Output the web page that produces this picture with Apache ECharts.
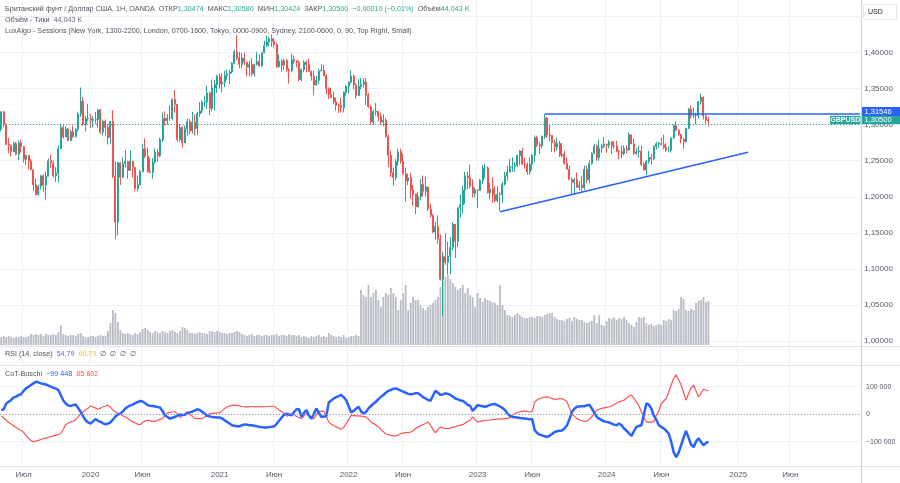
<!DOCTYPE html>
<html><head><meta charset="utf-8">
<script src="https://cdn.jsdelivr.net/npm/echarts@6/dist/echarts.min.js"></script>
<style>html,body{margin:0;padding:0;background:#fff}#c{width:900px;height:483px}</style>
</head><body><div id="c"></div>
<script>
// ---------- DATA ----------
const weekStart = '2019-04-29';   // first weekly category (Monday)
const weekCount = 347;            // weekly categories shown on the time axis (to Dec 2025)
const firstOpen = 1.2935;
const closes = [
1.3180,1.3005,1.2725,1.2715,1.2625,1.2740,1.2590,1.2745,1.2695,1.2520,
1.2575,1.2495,1.2375,1.2165,1.2030,1.2145,1.2290,1.2160,1.2285,1.2500,
1.2470,1.2290,1.2330,1.2665,1.2960,1.2830,1.2940,1.2780,1.2900,1.2835,
1.2935,1.3150,1.3325,1.3005,1.3080,1.3085,1.3060,1.3070,1.3075,1.3205,
1.2895,1.3045,1.2960,1.2820,1.3045,1.2280,1.1650,1.2470,1.2270,1.2460,
1.2490,1.2365,1.2490,1.2405,1.2115,1.2165,1.2345,1.2665,1.2565,1.2345,
1.2335,1.2480,1.2615,1.2570,1.2790,1.3085,1.3055,1.3090,1.3090,1.3350,
1.3280,1.2795,1.2960,1.2745,1.2945,1.3045,1.2915,1.3035,1.2945,1.3155,
1.3190,1.3310,1.3315,1.3440,1.3225,1.3510,1.3555,1.3670,1.3565,1.3590,
1.3685,1.3705,1.3730,1.3850,1.4010,1.3925,1.3835,1.3925,1.3865,1.3795,
1.3830,1.3705,1.3835,1.3875,1.3815,1.3995,1.4095,1.4150,1.4190,1.4155,
1.4110,1.3805,1.3880,1.3825,1.3890,1.3760,1.3745,1.3900,1.3880,1.3865,
1.3625,1.3760,1.3865,1.3835,1.3735,1.3675,1.3550,1.3615,1.3745,1.3755,
1.3680,1.3500,1.3415,1.3375,1.3315,1.3270,1.3265,1.3235,1.3450,1.3530,
1.3590,1.3675,1.3550,1.3405,1.3530,1.3560,1.3590,1.3410,1.3250,1.3035,
1.3180,1.3185,1.3115,1.3035,1.3060,1.2830,1.2575,1.2335,1.2265,1.2490,
1.2625,1.2490,1.2315,1.2220,1.2265,1.2095,1.2035,1.1860,1.2000,1.2175,
1.2075,1.2135,1.1830,1.1740,1.1510,1.1590,1.1415,1.0855,1.1170,1.1090,
1.1175,1.1300,1.1620,1.1380,1.1845,1.1890,1.2095,1.2290,1.2265,1.2145,
1.2050,1.2095,1.2090,1.2225,1.2400,1.2400,1.2055,1.2110,1.2030,1.1945,
1.2035,1.2030,1.2175,1.2290,1.2340,1.2415,1.2415,1.2440,1.2570,1.2635,
1.2450,1.2445,1.2345,1.2450,1.2575,1.2820,1.2720,1.2705,1.2835,1.3090,
1.2855,1.2850,1.2750,1.2690,1.2735,1.2575,1.2590,1.2465,1.2380,1.2240,
1.2200,1.2240,1.2130,1.2160,1.2125,1.2380,1.2235,1.2460,1.2605,1.2705,
1.2545,1.2675,1.2700,1.2730,1.2715,1.2760,1.2705,1.2705,1.2630,1.2625,
1.2600,1.2670,1.2650,1.2860,1.2735,1.2600,1.2620,1.2635,1.2450,1.2370,
1.2490,1.2545,1.2525,1.2700,1.2735,1.2740,1.2720,1.2685,1.2645,1.2645,
1.2815,1.2990,1.2920,1.2865,1.2800,1.2760,1.2945,1.3215,1.3125,1.3125,
1.3125,1.3320,1.3380,1.3120,1.3065,1.3050];
const highs = [
1.3180,1.3185,1.3020,1.2815,1.2720,1.2765,1.2760,1.2780,1.2785,1.2705,
1.2580,1.2580,1.2525,1.2380,1.2250,1.2165,1.2300,1.2310,1.2345,1.2530,
1.2585,1.2500,1.2410,1.2710,1.3015,1.2990,1.2975,1.2955,1.2930,1.2985,
1.2950,1.3180,1.3515,1.3380,1.3120,1.3285,1.3150,1.3120,1.3175,1.3210,
1.3215,1.3070,1.3070,1.3010,1.3050,1.3200,1.2485,1.2485,1.2485,1.2545,
1.2650,1.2500,1.2645,1.2500,1.2410,1.2295,1.2375,1.2730,1.2810,1.2685,
1.2540,1.2535,1.2670,1.2665,1.2815,1.3170,1.3185,1.3145,1.3265,1.3365,
1.3480,1.3285,1.3010,1.2980,1.2985,1.3085,1.3080,1.3175,1.3140,1.3180,
1.3315,1.3340,1.3400,1.3540,1.3455,1.3625,1.3620,1.3690,1.3705,1.3710,
1.3745,1.3760,1.3760,1.3870,1.4035,1.4240,1.4010,1.3995,1.4000,1.3875,
1.3885,1.3920,1.3845,1.4010,1.3975,1.4005,1.4165,1.4235,1.4220,1.4250,
1.4200,1.4135,1.3975,1.3905,1.3910,1.3910,1.3785,1.3985,1.3960,1.3895,
1.3890,1.3780,1.3890,1.3890,1.3915,1.3750,1.3750,1.3675,1.3775,1.3835,
1.3825,1.3700,1.3515,1.3515,1.3455,1.3375,1.3295,1.3375,1.3460,1.3550,
1.3600,1.3750,1.3690,1.3570,1.3630,1.3645,1.3645,1.3645,1.3440,1.3270,
1.3210,1.3300,1.3180,1.3165,1.3145,1.3090,1.2860,1.2640,1.2405,1.2525,
1.2670,1.2665,1.2600,1.2405,1.2325,1.2330,1.2165,1.2045,1.2065,1.2245,
1.2295,1.2275,1.2145,1.1900,1.1760,1.1650,1.1740,1.1475,1.1235,1.1495,
1.1380,1.1440,1.1645,1.1595,1.1855,1.2030,1.2155,1.2345,1.2345,1.2445,
1.2240,1.2120,1.2105,1.2245,1.2435,1.2450,1.2420,1.2195,1.2270,1.2145,
1.2145,1.2060,1.2205,1.2345,1.2425,1.2525,1.2545,1.2475,1.2585,1.2650,
1.2680,1.2535,1.2475,1.2545,1.2590,1.2850,1.2845,1.2760,1.2850,1.3145,
1.3105,1.3000,1.2850,1.2790,1.2820,1.2775,1.2745,1.2640,1.2545,1.2430,
1.2270,1.2260,1.2335,1.2220,1.2290,1.2430,1.2430,1.2505,1.2615,1.2735,
1.2725,1.2795,1.2735,1.2825,1.2735,1.2785,1.2770,1.2775,1.2775,1.2650,
1.2710,1.2710,1.2710,1.2895,1.2850,1.2805,1.2670,1.2710,1.2710,1.2475,
1.2510,1.2635,1.2595,1.2710,1.2760,1.2765,1.2820,1.2860,1.2740,1.2700,
1.2820,1.3000,1.3045,1.2935,1.2840,1.2815,1.2955,1.3230,1.3265,1.3240,
1.3165,1.3330,1.3435,1.3390,1.3130,1.3105];
const lows = [
1.2905,1.2965,1.2720,1.2605,1.2560,1.2625,1.2575,1.2505,1.2615,1.2475,
1.2440,1.2380,1.2370,1.2080,1.2015,1.2015,1.2100,1.2070,1.1960,1.2290,
1.2400,1.2270,1.2205,1.2195,1.2660,1.2805,1.2830,1.2770,1.2770,1.2815,
1.2820,1.2905,1.3105,1.2980,1.2905,1.3045,1.2955,1.2960,1.3010,1.2955,
1.2870,1.2850,1.2850,1.2725,1.2730,1.2260,1.1410,1.1465,1.2165,1.2255,
1.2405,1.2250,1.2365,1.2265,1.2075,1.2075,1.2160,1.2345,1.2535,1.2335,
1.2335,1.2250,1.2460,1.2480,1.2545,1.2760,1.2990,1.2995,1.3055,1.3060,
1.3165,1.2765,1.2765,1.2675,1.2760,1.2845,1.2865,1.2875,1.2855,1.2855,
1.3105,1.3150,1.3245,1.3220,1.3135,1.3185,1.3190,1.3435,1.3500,1.3450,
1.3520,1.3625,1.3565,1.3710,1.3835,1.3890,1.3780,1.3780,1.3830,1.3670,
1.3670,1.3670,1.3670,1.3820,1.3805,1.3800,1.3990,1.4075,1.4085,1.4080,
1.4070,1.3785,1.3790,1.3735,1.3760,1.3735,1.3570,1.3725,1.3845,1.3795,
1.3600,1.3605,1.3725,1.3725,1.3735,1.3610,1.3410,1.3545,1.3565,1.3740,
1.3670,1.3425,1.3355,1.3370,1.3280,1.3195,1.3160,1.3170,1.3170,1.3400,
1.3430,1.3570,1.3490,1.3360,1.3400,1.3490,1.3515,1.3270,1.3230,1.3000,
1.2995,1.3125,1.3050,1.3000,1.2975,1.2830,1.2410,1.2275,1.2155,1.2225,
1.2430,1.2460,1.2310,1.1935,1.2160,1.1975,1.1875,1.1760,1.1855,1.1950,
1.2005,1.2005,1.1805,1.1715,1.1500,1.1405,1.1350,1.0840,1.0350,1.1055,
1.0925,1.0925,1.1255,1.1150,1.1300,1.1710,1.1765,1.1900,1.2105,1.2115,
1.1990,1.1990,1.1840,1.2085,1.2175,1.2260,1.2045,1.1960,1.1915,1.1925,
1.1920,1.1805,1.1910,1.2155,1.2220,1.2345,1.2345,1.2345,1.2410,1.2440,
1.2445,1.2390,1.2305,1.2305,1.2365,1.2485,1.2690,1.2590,1.2670,1.2800,
1.2815,1.2770,1.2620,1.2615,1.2640,1.2550,1.2545,1.2445,1.2375,1.2230,
1.2035,1.2035,1.2125,1.2090,1.2070,1.2095,1.2185,1.2185,1.2445,1.2590,
1.2500,1.2500,1.2610,1.2675,1.2610,1.2670,1.2595,1.2665,1.2615,1.2520,
1.2535,1.2575,1.2605,1.2640,1.2730,1.2575,1.2580,1.2540,1.2425,1.2365,
1.2300,1.2460,1.2445,1.2510,1.2655,1.2680,1.2710,1.2660,1.2620,1.2615,
1.2615,1.2800,1.2915,1.2840,1.2740,1.2665,1.2755,1.2940,1.3085,1.3090,
1.3005,1.3085,1.3275,1.3070,1.3010,1.2975];
const volumes = [
8,9,8,9,8,7,8,8,9,8,
8,9,11,10,11,10,11,9,11,10,
10,11,10,13,20,11,10,9,10,10,
9,11,12,9,8,8,9,9,8,9,
10,9,9,14,22,35,32,23,15,12,
11,12,11,10,12,11,13,16,17,15,
13,12,14,13,12,14,13,12,14,15,
13,12,14,18,17,15,12,12,11,12,
13,12,12,11,14,14,13,14,13,12,
12,11,12,12,13,14,13,11,10,9,
10,11,9,10,10,9,10,10,9,10,
10,11,9,10,10,9,11,10,10,9,
10,8,9,8,7,9,8,9,10,8,
9,8,12,10,9,8,9,8,10,7,
8,9,9,10,9,55,50,48,60,48,
52,55,45,38,48,52,50,57,52,48,
35,45,52,60,35,42,48,45,45,40,
37,35,38,40,42,45,48,58,65,68,
70,66,62,58,55,57,60,52,57,50,
48,38,52,47,43,47,45,44,43,42,
40,60,40,35,30,29,28,30,32,30,
28,27,27,28,28,27,29,29,28,30,
31,32,32,28,26,25,25,24,26,27,
24,28,26,25,25,23,22,23,24,30,
22,30,20,19,24,27,26,28,25,27,
26,28,25,22,20,18,23,28,27,28,
22,20,21,19,20,21,20,25,24,26,
25,35,34,36,48,46,35,34,36,35,
42,44,45,48,43,44];
// CoT net positions, thousands of contracts
const cotBlue = [
15,18,39,45,52,61,64,70,72,85,
94,100,106,112,118,116,112,110,108,104,
100,96,93,88,70,50,39,32,30,33,
35,22,9,-8,-22,-30,-34,-26,-18,-24,
-28,-33,-37,-34,-30,-20,-8,-1,2,10,
21,27,32,35,40,44,48,46,40,33,
31,30,28,26,24,12,-4,-10,-16,-13,
-10,-5,-1,-3,-2,3,7,9,13,18,
15,9,2,-6,-8,-10,-11,-12,-12,-15,
-22,-28,-34,-40,-42,-44,-44,-40,-37,-38,
-40,-40,-42,-44,-46,-47,-48,-48,-47,-46,
-44,-35,-24,-12,-2,2,-1,-4,8,18,
18,-10,5,15,-5,-16,2,21,5,-10,
-8,-8,43,50,57,62,66,70,62,51,
30,6,12,20,27,10,2,8,21,30,
38,45,55,63,70,78,85,88,92,94,
90,86,82,78,74,72,74,76,76,70,
62,57,52,49,68,85,78,70,72,76,
74,70,64,57,54,50,49,42,34,30,
12,22,33,31,29,27,30,34,36,37,
33,28,23,15,2,-6,-10,-11,-12,-14,
-15,-16,-17,-18,-18,-59,-68,-75,-77,-80,
-83,-78,-72,-65,-62,-60,-59,-52,-40,-18,
9,20,27,28,29,29,32,35,21,5,
-10,-16,-22,-26,-28,-30,-34,-38,-40,-34,
-40,-52,-60,-70,-79,-62,-46,-43,-40,0,
39,35,20,-4,-20,-40,-46,-52,-60,-71,
-100,-138,-156,-140,-113,-85,-61,-85,-110,-120,
-100,-87,-100,-113,-105,-99.448];
const cotRed = [
-6,-14,-22,-30,-36,-42,-48,-54,-59,-66,
-77,-88,-96,-101,-98,-95,-92,-89,-86,-84,
-81,-79,-77,-74,-71,-55,-38,-32,-28,-26,
-20,-10,2,8,15,22,30,26,22,18,
22,27,30,33,26,15,8,3,-1,-6,
-10,-16,-22,-28,-32,-36,-38,-30,-24,-22,
-24,-26,-26,-22,-18,-16,-4,5,7,9,
9,0,-12,-4,2,9,0,-8,-16,-16,
-16,-16,-10,-4,2,3,4,5,5,12,
21,26,30,32,33,32,30,28,27,27,
27,28,27,27,28,27,27,28,28,29,
29,22,15,9,2,-7,-4,-2,-1,-8,
-12,-16,-6,2,-6,-12,-16,-2,8,11,
11,-8,-28,-36,-42,-46,-50,-55,-48,-34,
-20,-4,-5,-6,-6,-7,-8,-10,-18,-28,
-34,-40,-46,-55,-64,-71,-74,-77,-79,-79,
-76,-71,-69,-67,-66,-65,-60,-52,-46,-42,
-38,-34,-28,-40,-55,-68,-56,-46,-50,-52,
-52,-50,-48,-46,-42,-40,-38,-32,-26,-22,
-10,-20,-28,-26,-24,-22,-22,-21,-20,-19,
-18,-17,-17,-16,-16,-12,-4,2,6,9,
11,11,10,9,9,45,52,57,60,62,
63,60,57,54,55,57,56,52,45,22,
2,-8,-16,-20,-23,-25,-26,-18,-10,3,
15,18,21,23,25,27,30,36,40,45,
48,51,58,65,70,58,45,30,9,-10,
-28,-30,-28,-28,-4,10,39,48,57,80,
106,130,143,125,106,80,51,75,95,106,
85,63,75,91,88,85.802];
const xTickMonths = ['2019-07','2020-01','2020-06','2021-01','2021-06','2022-01','2022-06','2023-01','2023-06','2024-01','2024-06','2025-01','2025-06'];
const xTickLabels = ['Июл','2020','Июн','2021','Июн','2022','Июн','2023','Июн','2024','Июн','2025','Июн'];
const priceMin = 1.00, priceMax = 1.45, priceStep = 0.05;
const cotMin = -100, cotMax = 100, cotStep = 100;
const resistanceLevel = 1.31546, resistanceStart = '2023-07-10';
const trendStart = ['2023-03-06', 1.1793], trendEnd = ['2025-02-03', 1.2616];
const lastPrice = 1.305;

// ---------- BUILD ----------
const weeks = [];
const t0 = Date.parse(weekStart + 'T00:00:00Z');
for (let i = 0; i < weekCount; i++) weeks.push(new Date(t0 + i * 7 * 864e5).toISOString().slice(0, 10));
const labelAt = new Map();
xTickMonths.forEach((m, j) => { const idx = weeks.findIndex(w => w.slice(0, 7) === m); if (idx >= 0) labelAt.set(idx, xTickLabels[j]); });
const candles = closes.map((c, i) => {
  const o = i === 0 ? firstOpen : closes[i - 1];
  return [o, c, Math.min(lows[i], o, c), Math.max(highs[i], o, c)];
});
const FONT = '"Liberation Sans", Arial, sans-serif';
const TXT = '#50535e';
const UP = '#26a69a', DOWN = '#ef5350', BLUE = '#2962ff';
const fmtPrice = v => v.toFixed(5).replace('.', ',');
const fmtCot = v => { if (v === 0) return '0'; const s = String(Math.abs(v) * 1000).replace(/\B(?=(\d{3})+(?!\d))/g, ' '); return (v < 0 ? '−' : '') + s; };
const W = 861;
const hiddenX = (gi) => ({ type: 'category', gridIndex: gi, data: weeks, boundaryGap: true, show: false });
const rs = (color, size) => ({ fontSize: size || 7.2, fontFamily: FONT, fontWeight: 'normal', color: color, lineHeight: 9 });

const chart = echarts.init(document.getElementById('c'), null, { renderer: 'canvas' });
const option = {
  animation: false,
  backgroundColor: '#ffffff',
  textStyle: { fontFamily: FONT },
  title: [
    { left: 5, top: 4.5, padding: 0,
      text: '{t|Британский фунт / Доллар США, 1H, OANDA}{t|  ОТКР}{v|1,30474}{t|  МАКС}{v|1,30580}{t|  МИН}{v|1,30424}{t|  ЗАКР}{v|1,30500}{v|  −0,00010 (−0,01%)}{t|  Объём}{v|44,043 K}',
      textStyle: { fontWeight: 'normal', rich: { t: rs(TXT), v: rs('#22ab94') } } },
    { left: 5, top: 16, padding: 0, text: '{t|Объём - Тики}{g|  44,043 K}',
      textStyle: { fontWeight: 'normal', rich: { t: rs(TXT), g: rs('#6a6d78') } } },
    { left: 5, top: 27, padding: 0, text: '{t|LuxAlgo - Sessions (New York, 1300-2200, London, 0700-1600, Tokyo, 0000-0900, Sydney, 2100-0600, 0, 90, Top Right, Small)}',
      textStyle: { fontWeight: 'normal', rich: { t: rs(TXT) } } },
    { left: 5, top: 350, padding: 0, text: '{t|RSI (14, close)}{p|  54,79}{y|  60,79}{t|  ∅  ∅  ∅  ∅}',
      textStyle: { fontWeight: 'normal', rich: { t: rs(TXT), p: rs('#7e57c2'), y: rs('#f5c518') } } },
    { left: 5, top: 370, padding: 0, text: '{t|CoT-Buschi}{b|  −99 448}{r|  85 802}',
      textStyle: { fontWeight: 'normal', rich: { t: rs(TXT), b: rs(BLUE), r: rs('#ff5252') } } }
  ],
  grid: [
    { left: 0, width: W, top: 16.44, height: 324.56, outerBoundsMode: 'none', containLabel: false },
    { left: 0, width: W, top: 145, height: 200, outerBoundsMode: 'none', containLabel: false },
    { left: 0, width: W, top: 386.7, height: 55, outerBoundsMode: 'none', containLabel: false },
    { left: 0, width: W, top: 0, height: 466, outerBoundsMode: 'none', containLabel: false }
  ],
  xAxis: [
    hiddenX(0), hiddenX(1), hiddenX(2),
    { type: 'category', gridIndex: 3, data: weeks, boundaryGap: true, position: 'bottom',
      axisLine: { show: false }, axisTick: { show: false },
      axisLabel: { interval: (i) => labelAt.has(i), formatter: (v, i) => labelAt.get(i) || '', fontSize: 8, fontFamily: FONT, color: '#555a66', margin: 5 },
      splitLine: { show: true, interval: (i) => labelAt.has(i), lineStyle: { color: '#eef0f5', width: 1 } } }
  ],
  yAxis: [
    { type: 'value', gridIndex: 0, position: 'right', min: priceMin, max: priceMax, interval: priceStep,
      axisLine: { show: false }, axisTick: { show: false },
      axisLabel: { formatter: v => v > 1.449 ? '' : fmtPrice(v), fontSize: 8, fontFamily: FONT, color: '#555a66', margin: 3 },
      splitLine: { lineStyle: { color: '#eef0f5', width: 1 } } },
    { type: 'value', gridIndex: 1, min: 0, max: 200, show: false, splitLine: { show: false } },
    { type: 'value', gridIndex: 2, position: 'right', min: cotMin, max: cotMax, interval: cotStep,
      axisLine: { show: false }, axisTick: { show: false },
      axisLabel: { formatter: fmtCot, fontSize: 7, fontFamily: FONT, color: '#555a66', margin: 5 },
      splitLine: { lineStyle: { color: '#eef0f5', width: 1 } } },
    { type: 'value', gridIndex: 3, show: false, splitLine: { show: false } }
  ],
  series: [
    { name: 'Volume', type: 'bar', xAxisIndex: 1, yAxisIndex: 1, data: volumes, barWidth: 1.8,
      itemStyle: { color: 'rgba(172,175,186,0.85)' }, z: 1, silent: true },
    { name: 'GBPUSD', type: 'candlestick', xAxisIndex: 0, yAxisIndex: 0, data: candles, barWidth: 1.5, z: 3,
      itemStyle: { color: UP, color0: DOWN, borderColor: UP, borderColor0: DOWN, borderWidth: 1 },
      markLine: { silent: true, symbol: ['none', 'none'], label: { show: false }, animation: false,
        data: [
          { yAxis: lastPrice, lineStyle: { type: [1, 2], color: UP, width: 1 } },
          [ { coord: [resistanceStart, resistanceLevel], lineStyle: { type: 'solid', color: BLUE, width: 1.6 } },
            { coord: [weeks[weeks.length - 1], resistanceLevel] } ],
          [ { coord: trendStart, lineStyle: { type: 'solid', color: BLUE, width: 1.6 } }, { coord: trendEnd } ]
        ] } },
    { name: 'CoT red', type: 'line', xAxisIndex: 2, yAxisIndex: 2, data: cotRed, showSymbol: false, clip: false,
      lineStyle: { color: '#ff5252', width: 1.2 }, z: 2,
      markLine: { silent: true, symbol: ['none', 'none'], label: { show: false },
        data: [ { yAxis: 0, lineStyle: { type: [1, 2], color: '#9598a1', width: 1 } } ] } },
    { name: 'CoT blue', type: 'line', xAxisIndex: 2, yAxisIndex: 2, data: cotBlue, showSymbol: false, clip: false,
      lineStyle: { color: BLUE, width: 2.5 }, z: 3 },
    { name: 'frame', type: 'line', xAxisIndex: 3, yAxisIndex: 3, data: [], silent: true }
  ]
};
chart.setOption(option);

// price tags on the right axis, positioned via the library's scale
const yRes = chart.convertToPixel({ yAxisIndex: 0 }, resistanceLevel);
const yLast = chart.convertToPixel({ yAxisIndex: 0 }, lastPrice);
const sep = '#e0e3eb';
chart.setOption({ graphic: [
  { type: 'line', shape: { x1: 0, y1: 346.5, x2: 900, y2: 346.5 }, style: { stroke: sep, lineWidth: 1 }, z: 50 },
  { type: 'line', shape: { x1: 0, y1: 365.5, x2: 900, y2: 365.5 }, style: { stroke: sep, lineWidth: 1 }, z: 50 },
  { type: 'line', shape: { x1: 0, y1: 466.5, x2: 900, y2: 466.5 }, style: { stroke: sep, lineWidth: 1 }, z: 50 },
  { type: 'line', shape: { x1: 861.5, y1: 0, x2: 861.5, y2: 483 }, style: { stroke: '#d1d4dc', lineWidth: 1 }, z: 50 },
  { type: 'rect', shape: { x: 863.5, y: 4.5, width: 33, height: 15, r: 2 }, style: { fill: '#fff', stroke: sep, lineWidth: 1 }, z: 60 },
  { type: 'text', x: 868, y: 12, style: { text: 'USD', fontSize: 7, fontFamily: FONT, fill: '#131722', verticalAlign: 'middle' }, z: 61 },
  { type: 'rect', shape: { x: 862, y: yRes - 2 - 4.5, width: 38, height: 9 }, style: { fill: BLUE }, z: 60 },
  { type: 'text', x: 864.5, y: yRes - 2, style: { text: fmtPrice(resistanceLevel), fontSize: 7.5, fontFamily: FONT, fill: '#fff', verticalAlign: 'middle' }, z: 61 },
  { type: 'rect', shape: { x: 830, y: yLast - 1 - 4.2, width: 30.5, height: 8.4 }, style: { fill: UP }, z: 62 },
  { type: 'text', x: 845.3, y: yLast - 1, style: { text: 'GBPUSD', fontSize: 7, fontWeight: 'bold', fontFamily: FONT, fill: '#fff', align: 'center', verticalAlign: 'middle' }, z: 63 },
  { type: 'rect', shape: { x: 862, y: yLast - 1 - 4.2, width: 38, height: 8.4 }, style: { fill: UP }, z: 62 },
  { type: 'text', x: 864.5, y: yLast - 1, style: { text: fmtPrice(lastPrice), fontSize: 7.5, fontFamily: FONT, fill: '#fff', verticalAlign: 'middle' }, z: 63 }
] });
</script>
</body></html>
